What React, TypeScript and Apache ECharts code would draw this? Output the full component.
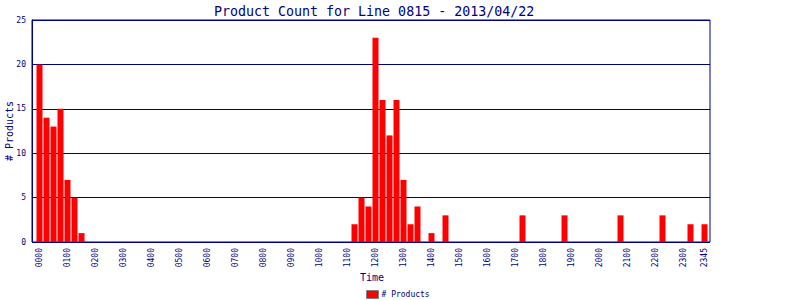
import React, { useEffect, useRef } from "react";
import * as echarts from "echarts";

const titleText = "Product Count for Line 0815 - 2013/04/22";
const seriesName = "# Products";

// 15-minute time slots, 0000 .. 2345
const timeSlots: string[] = [];
for (let h = 0; h < 24; h++) {
  for (let m = 0; m < 60; m += 15) {
    timeSlots.push(String(h).padStart(2, "0") + String(m).padStart(2, "0"));
  }
}

const productCounts: number[] = [
  20, 14, 13, 15, 7, 5, 1, 0, // 0000-0145
  0, 0, 0, 0, 0, 0, 0, 0, // 0200-0345
  0, 0, 0, 0, 0, 0, 0, 0, // 0400-0545
  0, 0, 0, 0, 0, 0, 0, 0, // 0600-0745
  0, 0, 0, 0, 0, 0, 0, 0, // 0800-0945
  0, 0, 0, 0, 0, 2, 5, 4, // 1000-1145
  23, 16, 12, 16, 7, 2, 4, 0, // 1200-1345
  1, 0, 3, 0, 0, 0, 0, 0, // 1400-1545
  0, 0, 0, 0, 0, 3, 0, 0, // 1600-1745
  0, 0, 0, 3, 0, 0, 0, 0, // 1800-1945
  0, 0, 0, 3, 0, 0, 0, 0, // 2000-2145
  0, 3, 0, 0, 0, 2, 0, 2, // 2200-2345
];

const yMin = 0;
const yMax = 25;
const yStep = 5;

const NAVY = "#000080";
const FONT = "DejaVu Sans Mono";

export default function App() {
  const ref = useRef<HTMLDivElement>(null);

  useEffect(() => {
    document.body.style.margin = "0";
    if (!ref.current) return;
    const chart = echarts.init(ref.current, undefined, { renderer: "svg" });
    const lastIdx = timeSlots.length - 1;
    chart.setOption({
      animation: false,
      backgroundColor: "#ffffff",
      title: {
        text: titleText,
        left: 209,
        top: 0,
        textStyle: { color: NAVY, fontFamily: FONT, fontSize: 13.3, fontWeight: "normal" },
      },
      legend: {
        data: [seriesName],
        left: 366,
        top: 290,
        icon: "rect",
        itemWidth: 12,
        itemHeight: 8,
        itemGap: 4,
        padding: 0,
        itemStyle: { borderColor: "#808080", borderWidth: 1 },
        textStyle: { color: NAVY, fontFamily: FONT, fontSize: 8, padding: [0, 0, 0, -2] },
      },
      grid: [
        {
          left: 32,
          right: 90,
          top: 20,
          bottom: 58,
          show: true,
          borderColor: NAVY,
          borderWidth: 1,
          backgroundColor: "transparent",
          containLabel: false,
          outerBoundsMode: "none",
        },
        { left: 36, right: 92, top: 20, bottom: 58, containLabel: false, outerBoundsMode: "none" },
      ],
      xAxis: [
        { gridIndex: 0, type: "value", min: 0, max: 1, show: false },
        {
          gridIndex: 1,
          type: "category",
          data: timeSlots,
          boundaryGap: true,
          name: "Time",
          nameLocation: "middle",
          nameGap: 30,
          nameMoveOverlap: false,
          nameTextStyle: { color: NAVY, fontFamily: FONT, fontSize: 10 },
          axisLine: { show: false },
          axisTick: { show: false },
          axisLabel: {
            rotate: 90,
            margin: 6,
            color: NAVY,
            fontFamily: FONT,
            fontSize: 8,
            interval: (i: number) => i % 4 === 0 || i === lastIdx,
            hideOverlap: false,
          },
        },
      ],
      yAxis: [
        {
          gridIndex: 0,
          type: "value",
          min: yMin,
          max: yMax,
          interval: yStep,
          name: seriesName,
          nameLocation: "middle",
          nameGap: 18,
          nameMoveOverlap: false,
          nameTextStyle: { color: NAVY, fontFamily: FONT, fontSize: 10 },
          axisLine: { show: true, lineStyle: { color: NAVY } },
          axisTick: { show: false },
          axisLabel: { color: NAVY, fontFamily: FONT, fontSize: 8, margin: 6 },
          splitLine: { show: true, lineStyle: { color: NAVY, width: 1 } },
        },
        { gridIndex: 1, type: "value", min: yMin, max: yMax, show: false },
      ],
      series: [
        {
          name: seriesName,
          type: "bar",
          xAxisIndex: 1,
          yAxisIndex: 1,
          data: productCounts,
          barWidth: 6,
          itemStyle: { color: "#ff0000" },
        },
      ],
    });
    return () => chart.dispose();
  }, []);

  return <div ref={ref} style={{ width: 800, height: 300 }} />;
}
